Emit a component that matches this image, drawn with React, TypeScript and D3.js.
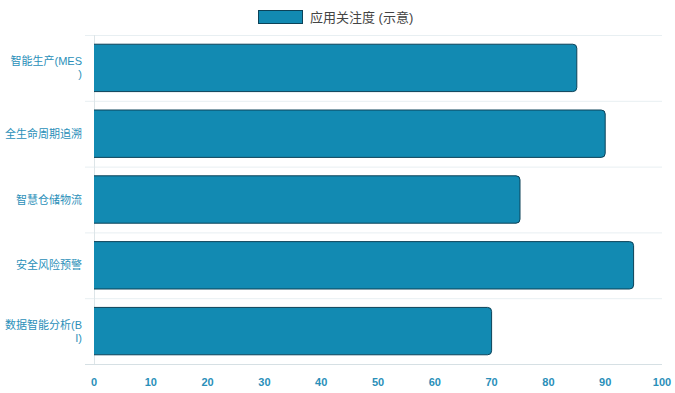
import React from "react";
import * as d3 from "d3";

const categories = ["智能生产(MES)", "全生命周期追溯", "智慧仓储物流", "安全风险预警", "数据智能分析(BI)"];
const categoryLines = [["智能生产(MES", ")"], ["全生命周期追溯"], ["智慧仓储物流"], ["安全风险预警"], ["数据智能分析(B", "I)"]];
const values = [85, 90, 75, 95, 70];
const xTicks = [0, 10, 20, 30, 40, 50, 60, 70, 80, 90, 100];
const seriesName = "应用关注度 (示意)";

const W = 675, H = 393;
const M = { left: 94, right: 662, top: 35, bottom: 364 };
const FILL = "#128ab2";
const STROKE = "#0c4258";
const LABEL = "#2a8fb9";
const FONT = "'Liberation Sans', Arial, 'Noto Sans CJK SC', sans-serif";

function barPath(x0: number, x1: number, y0: number, h: number, r: number) {
  const rr = Math.min(r, (x1 - x0) / 2, h / 2);
  return `M${x0},${y0}H${x1 - rr}A${rr},${rr} 0 0 1 ${x1},${y0 + rr}V${y0 + h - rr}A${rr},${rr} 0 0 1 ${x1 - rr},${y0 + h}H${x0}`;
}

export default function App() {
  const x = d3.scaleLinear().domain([0, 100]).range([M.left, M.right]);
  const y = d3.scaleBand<string>().domain(categories).range([M.top, M.bottom]).paddingInner(0).paddingOuter(0);
  const bw = y.bandwidth();
  const bh = bw * 0.72;
  const bounds = categories.map((c) => y(c)!).concat([M.bottom]);

  return (
    <svg width={W} height={H} style={{ position: "absolute", left: 0, top: 0 }} fontFamily={FONT}>
      <rect width={W} height={H} fill="#fff" />
      {/* legend */}
      <rect x={258.5} y={10.5} width={44} height={13} fill={FILL} stroke={STROKE} strokeWidth={1} />
      <text x={310} y={21.5} fontSize={13} fill="#444">{seriesName}</text>
      {/* grid */}
      {bounds.map((b, i) => (
        <line key={i} x1={M.left - 9} x2={M.right} y1={b + 0.5} y2={b + 0.5}
          stroke={i === bounds.length - 1 ? "#d6e0e4" : "#e8eff2"} strokeWidth={1} />
      ))}
      <line x1={M.left + 0.5} x2={M.left + 0.5} y1={M.top} y2={M.bottom} stroke="#dde5e8" strokeWidth={1} />
      {/* bars */}
      {categories.map((c, i) => {
        const y0 = y(c)! + (bw - bh) / 2;
        return (
          <path key={c} d={barPath(x(0), x(values[i]), y0, bh, 4)} fill={FILL} stroke={STROKE} strokeWidth={1} />
        );
      })}
      {/* y labels */}
      {categories.map((c, i) => {
        const lines = categoryLines[i];
        const cy = y(c)! + bw / 2;
        const lh = 13;
        const start = cy - ((lines.length - 1) * lh) / 2;
        return (
          <text key={c} x={82} fontSize={11} fill={LABEL} textAnchor="end">
            {lines.map((l, j) => (
              <tspan key={j} x={82} y={start + j * lh + 4}>{l}</tspan>
            ))}
          </text>
        );
      })}
      {/* x ticks */}
      {xTicks.map((t) => (
        <text key={t} x={x(t)} y={386} fontSize={11} fontWeight="bold" fill={LABEL} textAnchor="middle">{t}</text>
      ))}
    </svg>
  );
}
